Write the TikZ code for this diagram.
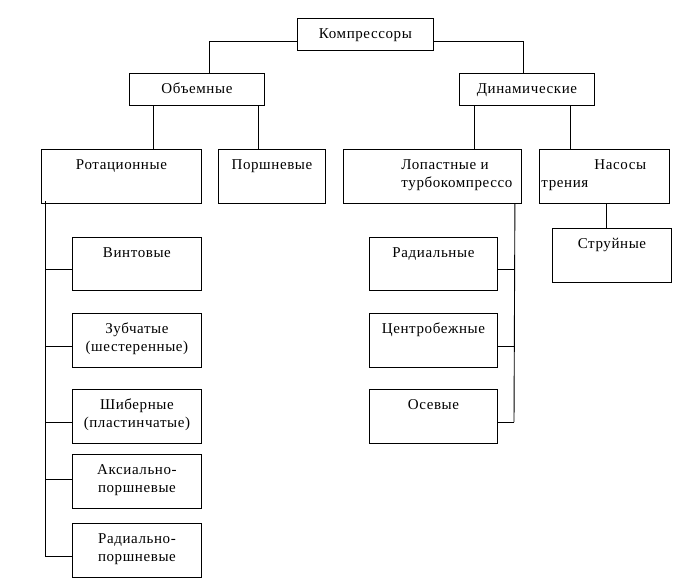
\documentclass[tikz,border=0pt]{standalone}
\usepackage{fontspec}
\setmainfont[LetterSpace=4]{Liberation Serif}
\begin{document}
\begin{tikzpicture}[x=1pt,y=-1pt,line width=0.9pt,
  box/.style n args={2}{draw, anchor=north west, inner sep=0pt, minimum width=#1pt, minimum height=#2pt},
  lab/.style={anchor=north, yshift=-7.9pt, inner sep=0pt, align=center, font=\fontsize{15}{18}\selectfont},
  labl/.style={anchor=north west, yshift=-7.9pt, inner sep=0pt, align=left, font=\fontsize{15}{18}\selectfont}]
\useasboundingbox (0,0) rectangle (684,579);
% level 0/1
\node[box={136}{32}, label={[lab]north:\strut Компрессоры}] (k) at (297,18) {};
\node[box={135}{32}, label={[lab]north:\strut Объемные}] (ob) at (129,73) {};
\node[box={135}{32}, label={[lab]north:\strut Динамические}] (din) at (459,73) {};
% level 2
\node[box={160}{54}, label={[lab]north:\strut Ротационные}] (rot) at (41,149) {};
\node[box={107}{54}, label={[lab]north:\strut Поршневые}] (por) at (218,149) {};
\node[box={178}{54}, label={[labl,xshift=58pt]north west:\strut Лопастные и\\турбокомпрессо}] (lop) at (343,149) {};
\node[box={130}{54}, label={[labl,xshift=2pt]north west:\strut\hspace*{53pt}Насосы\\трения}] (nas) at (539,149) {};
% left column
\node[box={129}{53}, label={[lab]north:\strut Винтовые}] (vint) at (72,237) {};
\node[box={129}{54}, label={[lab]north:\strut Зубчатые\\(шестеренные)}] (zub) at (72,313) {};
\node[box={129}{54}, label={[lab]north:\strut Шиберные\\(пластинчатые)}] (shib) at (72,389) {};
\node[box={129}{54}, label={[lab]north:\strut Аксиально-\\поршневые}] (aks) at (72,454) {};
\node[box={129}{54}, label={[lab]north:\strut Радиально-\\поршневые}] (radp) at (72,523) {};
% right column
\node[box={128}{53}, label={[lab]north:\strut Радиальные}] (rad) at (369,237) {};
\node[box={128}{54}, label={[lab]north:\strut Центробежные}] (cen) at (369,313) {};
\node[box={128}{54}, label={[lab]north:\strut Осевые}] (ose) at (369,389) {};
\node[box={119}{54}, label={[lab]north:\strut Струйные}] (str) at (552,228) {};
% top connectors
\draw ([yshift=-23pt]k.north west) -| ([xshift=12.5pt]ob.north);
\draw ([yshift=-23pt]k.north east) -| ([xshift=-3.5pt]din.north);
\coordinate (o1) at ([xshift=24pt]ob.south west);
\coordinate (o2) at ([xshift=129pt]ob.south west);
\coordinate (d1) at ([xshift=15pt]din.south west);
\coordinate (d2) at ([xshift=111pt]din.south west);
\coordinate (n1) at ([xshift=67pt]nas.south west);
\draw (o1) -- (o1 |- rot.north);
\draw (o2) -- (o2 |- por.north);
\draw (d1) -- (d1 |- lop.north);
\draw (d2) -- (d2 |- nas.north);
\draw (n1) -- (n1 |- str.north);
% left bus
\coordinate (lb) at ([xshift=4pt,yshift=3pt]rot.south west);
\coordinate (l1) at (45,269);
\coordinate (l2) at (45,346);
\coordinate (l3) at (45,422);
\coordinate (l4) at (45,479);
\coordinate (l5) at (45,556);
\draw (lb) -- (l5);
\draw (l1) -- (vint.west |- l1);
\draw (l2) -- (zub.west |- l2);
\draw (l3) -- (shib.west |- l3);
\draw (l4) -- (aks.west |- l4);
\draw (l5) -- (radp.west |- l5);
% right bus
\coordinate (rb) at ([xshift=-7pt]lop.south east);
\coordinate (r1) at (514,269);
\coordinate (r2) at (514,346);
\coordinate (r3) at (514,422);
\draw (rb) -- (r3);
\draw (r1) -- (rad.east |- r1);
\draw (r2) -- (cen.east |- r2);
\draw (r3) -- (ose.east |- r3);
\end{tikzpicture}
\end{document}
